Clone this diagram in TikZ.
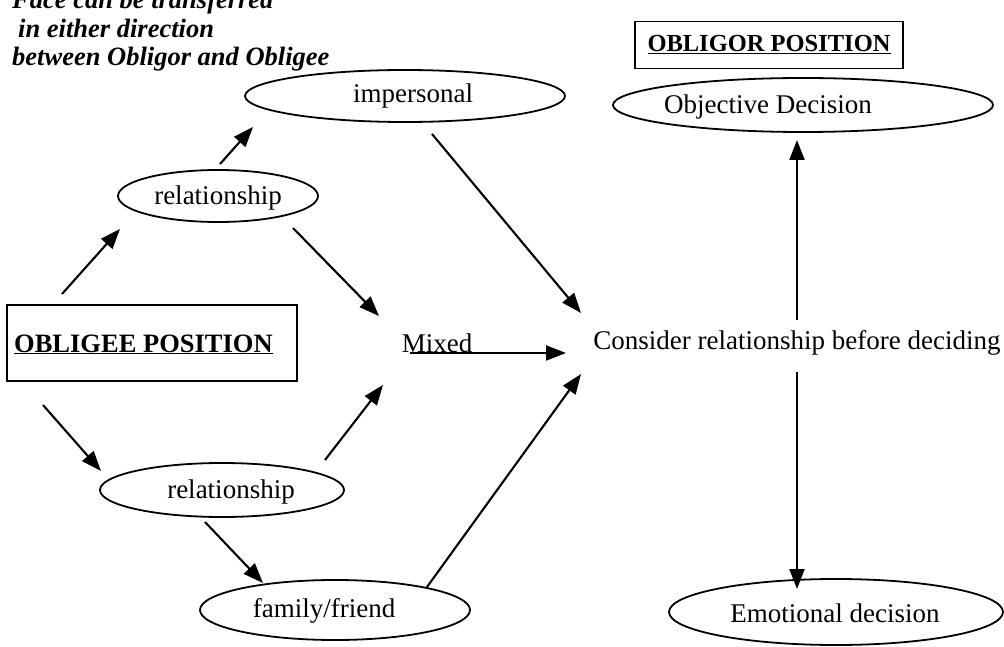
\documentclass[tikz,border=0pt]{standalone}
\usepackage{fontspec}
\setmainfont{Liberation Serif}
\usetikzlibrary{shapes.geometric,arrows.meta}
\begin{document}
\begin{tikzpicture}[x=1pt,y=-1pt,
  every node/.style={font=\fontsize{27}{31}\selectfont,inner sep=0pt},
  oval/.style={draw,line width=1.8pt,ellipse,inner sep=0pt},
  posbox/.style={draw,line width=1.5pt,inner sep=0pt},
  arr/.style={line width=2.1pt,-{Triangle[length=20pt,width=15pt]}},
  note/.style={font=\fontsize{26.5}{31}\selectfont\bfseries\itshape,anchor=base west}]
\useasboundingbox (0,0) rectangle (1004,647);

% note at the top left
\node[note] (n1) at (12,9) {Face can be transferred};
\node[note] (n2) at (18,38) {in either direction};
\node[note] (n3) at (12,66) {between Obligor and Obligee};

% position boxes
\node[posbox,minimum width=290pt,minimum height=76pt] (obligee) at (152,343) {};
\node[anchor=base west,font=\fontsize{26.5}{30}\selectfont\bfseries] (obligeet) at (14,352) {\underline{OBLIGEE POSITION}};
\node[posbox,minimum width=268pt,minimum height=47pt] (obligor) at (769,45) {};
\node[font=\fontsize{24.5}{28}\selectfont\bfseries] (obligort) at (769,45) {\underline{OBLIGOR POSITION}};

% ellipses
\node[oval,minimum width=320pt,minimum height=52pt] (imp) at (405,96) {};
\node[oval,minimum width=200pt,minimum height=52pt] (rel1) at (218,196) {};
\node[oval,minimum width=244pt,minimum height=54pt] (rel2) at (222,490) {};
\node[oval,minimum width=270pt,minimum height=60pt] (fam) at (335,610) {};
\node[oval,minimum width=380pt,minimum height=54pt] (obj) at (803,105) {};
\node[oval,minimum width=334pt,minimum height=66pt] (emo) at (836,612) {};

% ellipse texts
\node (impt) at (413,96) {impersonal};
\node (rel1t) at (218,198) {relationship};
\node (rel2t) at (231,492) {relationship};
\node (famt) at (324,611) {family/friend};
\node (objt) at (768,107) {Objective Decision};
\node (emot) at (835,613) {Emotional decision};

% free-standing labels
\node (mixed) at (437,343) {Mixed};
\node (consider) at (797,343) {Consider relationship before deciding};

% connector end points
\coordinate (a1s) at (62,294);   \coordinate (a1e) at (120,229);
\coordinate (a2s) at (220,164);  \coordinate (a2e) at (253,127);
\coordinate (a3s) at (293,228);  \coordinate (a3e) at (379,316);
\coordinate (a4s) at (432,134);  \coordinate (a4e) at (581,313);
\coordinate (a5s) at (43,405);   \coordinate (a5e) at (101,471);
\coordinate (a6s) at (325,460);  \coordinate (a6e) at (383,385);
\coordinate (a7s) at (205,522);  \coordinate (a7e) at (263,583);
\coordinate (a8s) at (427,587);  \coordinate (a8e) at (581,374);
\coordinate (a9s) at (410,353);  \coordinate (a9e) at (566,353);
\coordinate (up) at (797,140);   \coordinate (upS) at (797,320);
\coordinate (dn) at (797,589);   \coordinate (dnS) at (797,372);

% connectors
\draw[arr] (a1s) -- (a1e);
\draw[arr] (a2s) -- (a2e);
\draw[arr] (a3s) -- (a3e);
\draw[arr] (a4s) -- (a4e);
\draw[arr] (a5s) -- (a5e);
\draw[arr] (a6s) -- (a6e);
\draw[arr] (a7s) -- (a7e);
\draw[arr] (a8s) -- (a8e);
\draw[arr] (a9s) -- (a9e);
\draw[arr] (upS) -- (up);
\draw[arr] (dnS) -- (dn);
\end{tikzpicture}
\end{document}
